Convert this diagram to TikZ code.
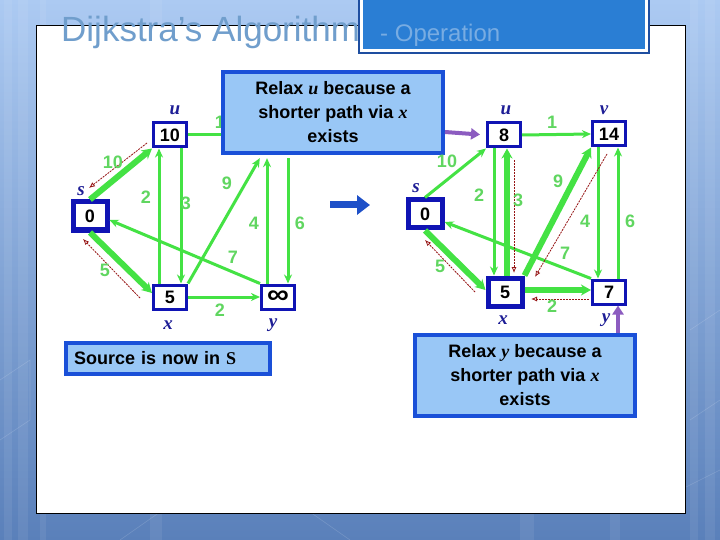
\documentclass[tikz,border=0pt]{standalone}
\usepackage{fontspec}
\usepackage{graphicx}
\setmainfont{Liberation Sans}
\newfontfamily\tnr{Liberation Serif}
\usetikzlibrary{arrows.meta}
\definecolor{gr}{RGB}{68,226,68}
\definecolor{grl}{RGB}{96,214,96}
\definecolor{nb}{RGB}{16,20,180}
\definecolor{lb}{RGB}{30,30,150}
\definecolor{bx}{RGB}{153,199,246}
\definecolor{bxb}{RGB}{26,80,216}
\definecolor{pu}{RGB}{140,92,192}
\definecolor{rd}{RGB}{150,20,20}
\definecolor{tc}{RGB}{112,158,204}
\definecolor{tcl}{RGB}{120,172,226}
\definecolor{bgtop}{RGB}{172,202,242}
\definecolor{bgbot}{RGB}{90,128,186}
\definecolor{hdr}{RGB}{42,126,212}
\definecolor{hdrb}{RGB}{30,78,160}
\definecolor{bigarrow}{RGB}{30,80,200}
\begin{document}
\begin{tikzpicture}[x=1pt,y=-1pt,
  vtx/.style={draw=nb,fill=white,line width=3pt,minimum width=33pt,minimum height=24pt,inner sep=0pt,font=\fontsize{18}{18}\selectfont\bfseries},
  vtxs/.style={vtx,line width=5pt,minimum width=34pt,minimum height=28pt},
  vl/.style={font=\tnr\fontsize{19}{19}\selectfont\bfseries\itshape,text=lb,inner sep=0pt},
  el/.style={font=\fontsize{18}{18}\selectfont\bfseries,text=grl,inner sep=0pt},
  e/.style={draw=gr,line width=3pt,-{Stealth[length=9pt,width=8pt]}},
  et/.style={draw=gr,line width=6pt,-{Stealth[length=10pt,width=11pt]}},
  rp/.style={draw=rd,line width=0.8pt,dash pattern=on 2pt off 1pt,-{Latex[length=6pt,width=5pt,fill=red,open=false]}},
  rbox/.style={draw=bxb,line width=4pt,fill=bx,inner sep=0pt,align=center,font=\fontsize{18}{24}\selectfont\bfseries},
  pa/.style={draw=pu,line width=4pt,-{Triangle[length=9pt,width=11pt]}},
  ghost/.style={minimum width=36pt,minimum height=46pt,inner sep=0pt}
]
\useasboundingbox (0,0) rectangle (720,540);
% background
\shade[top color=bgtop,bottom color=bgbot] (0,0) rectangle (720,540);
\foreach \xa/\w in {4/8,18/10,40/6,690/8,705/10,150/12,520/14,610/10}
  \fill[white,opacity=0.07] (\xa,0) rectangle (\xa+\w,540);
\draw[white,opacity=0.15,line width=0.6pt] (0,380) -- (30,360) -- (30,420) -- (0,440);
\draw[white,opacity=0.15,line width=0.6pt] (120,540) -- (170,505) (300,505) -- (350,540) (650,505) -- (720,470);
\draw[white,opacity=0.15,line width=0.6pt] (690,330) -- (720,310) (690,420) -- (720,400);
% content panel
\draw[black,line width=1pt,fill=white] (36,26) rectangle (685,513);
% header box
\fill[hdrb] (358,-5) rectangle (650,54);
\fill[white] (360,-5) rectangle (648,52);
\fill[hdr] (363,-5) rectangle (645,49);
% title
\node[anchor=base west,inner sep=0pt,font=\fontsize{35}{35}\selectfont,text=tc] (t1) at (61,42) {Dijkstra’s Algorithm};
\node[anchor=base west,inner sep=0pt,font=\fontsize{24}{24}\selectfont,text=tcl] (t2) at (380,42) {- Operation};

% ---------------- graph 1 ----------------
\node[vtxs] (s1) at (90,216) {0};
\node[vtx] (u1) at (170,135) {10};
\node[vtx] (x1) at (170,297) {5};
\node[vtx] (y1) at (278,297) {\raisebox{-1pt}{\scalebox{1.7}[1.5]{∞}}};
\node[ghost] (v1) at (278,135) {};
\node[vl] (su1) at (81,191) {s};
\node[vl] (uu1) at (175,110) {u};
\node[vl] (xu1) at (168,325) {x};
\node[vl] (yu1) at (273,325) {y};

\draw[e] (u1.east) -- (v1.west);
\draw[e] ([xshift=11pt]u1.south) -- ([xshift=11pt]u1.south |- x1.north);
\draw[e] ([xshift=-11pt]x1.north) -- ([xshift=-11pt]x1.north |- u1.south);
\draw[e] (x1.north east) -- (v1.south west);
\draw[e] ([xshift=-11pt]y1.north) -- ([xshift=-11pt]y1.north |- v1.south);
\draw[e] ([xshift=10pt]v1.south) -- ([xshift=10pt]v1.south |- y1.north);
\draw[e] (y1.north west) -- ([yshift=-4pt]s1.east);
\draw[e] (x1.east) -- (y1.west);
\draw[et] (s1.north) -- (u1.south west);
\draw[et] (s1.south) -- ([yshift=4pt]x1.west);

\coordinate (ra1) at (147,143); \coordinate (rb1) at (89,188);
\coordinate (ra2) at (140,298); \coordinate (rb2) at (83,239);
\draw[rp] (ra1) -- (rb1);
\draw[rp] (ra2) -- (rb2);

\node[el] (l10a) at (113,162) {10};
\node[el] (l2a) at (146,197) {2};
\node[el] (l3a) at (186,203) {3};
\node[el] (l9a) at (227,183) {9};
\node[el] (l4a) at (254,223) {4};
\node[el] (l6a) at (300,223) {6};
\node[el] (l7a) at (233,257) {7};
\node[el] (l5a) at (105,270) {5};
\node[el] (l2b) at (220,310) {2};
\node[el] (l1a) at (220,122) {1};

% relax u box
\node[rbox,minimum width=220pt,minimum height=81pt] (r1) at (333,112.5)
  {Relax {\tnr\itshape u} because a\\shorter path via {\tnr\itshape x}\\exists};

% big arrow between graphs
\coordinate (ba) at (330,205); \coordinate (bb) at (370,205);
\draw[bigarrow,line width=7pt,-{Triangle[length=13pt,width=19pt]}] (ba) -- (bb);

% ---------------- graph 2 ----------------
\node[vtxs] (s2) at (425,214) {0};
\node[vtx] (u2) at (504,135) {8};
\node[vtx] (v2) at (609,134) {14};
\node[vtxs] (x2) at (505,292) {5};
\node[vtx] (y2) at (609,292) {7};
\node[vl] (su2) at (416,188) {s};
\node[vl] (uu2) at (506,110) {u};
\node[vl] (vu2) at (604,110) {v};
\node[vl] (xu2) at (503,320) {x};
\node[vl] (yu2) at (606,320) {y};

\draw[e] (s2.north) -- (u2.south west);
\draw[e] (u2.east) -- (v2.west);
\draw[e] ([xshift=-10pt]u2.south) -- ([xshift=-10pt]u2.south |- x2.north);
\draw[e] ([xshift=-11pt]v2.south) -- ([xshift=-11pt]v2.south |- y2.north);
\draw[e] ([xshift=9pt]y2.north) -- ([xshift=9pt]y2.north |- v2.south);
\draw[e] (y2.north west) -- ([yshift=-8pt]s2.east);
\draw[et] ([xshift=2pt]x2.north) -- ([xshift=2pt]x2.north |- u2.south);
\draw[et] (x2.north east) -- (v2.south west);
\draw[et] (s2.south) -- ([yshift=2pt]x2.west);
\draw[et] ([yshift=2pt]x2.east) -- ([yshift=2pt]y2.west);

\coordinate (rc1) at (514,160); \coordinate (rd1) at (514,273);
\coordinate (rc2) at (607,154); \coordinate (rd2) at (535,277);
\coordinate (rc3) at (475,292); \coordinate (rd3) at (425,240);
\coordinate (rc4) at (589,299); \coordinate (rd4) at (531,299);
\draw[rp] (rc1) -- (rd1);
\draw[rp] (rc2) -- (rd2);
\draw[rp] (rc3) -- (rd3);
\draw[rp] (rc4) -- (rd4);

\node[el] (l10c) at (447,161) {10};
\node[el] (l1c) at (552,122) {1};
\node[el] (l2c) at (479,195) {2};
\node[el] (l3c) at (518,200) {3};
\node[el] (l9c) at (558,181) {9};
\node[el] (l4c) at (585,221) {4};
\node[el] (l6c) at (630,221) {6};
\node[el] (l7c) at (565,253) {7};
\node[el] (l5c) at (440,266) {5};
\node[el] (l2d) at (552,306) {2};

% bottom boxes
\node[rbox,minimum width=220pt,minimum height=81pt] (r2) at (525,375.5)
  {Relax {\tnr\itshape y} because a\\shorter path via {\tnr\itshape x}\\exists};
\node[rbox,text width=188pt,align=left,inner xsep=8pt,minimum height=31pt] (src) at (168,358.5)
  {Source is now in {\tnr S}};

% purple arrows
\draw[pa,shorten >=6pt] ([yshift=-19.5pt]r1.east) -- (u2.west);
\draw[pa] ([xshift=9pt]y2.south |- r2.north) -- ([xshift=9pt]y2.south);
\end{tikzpicture}
\end{document}
